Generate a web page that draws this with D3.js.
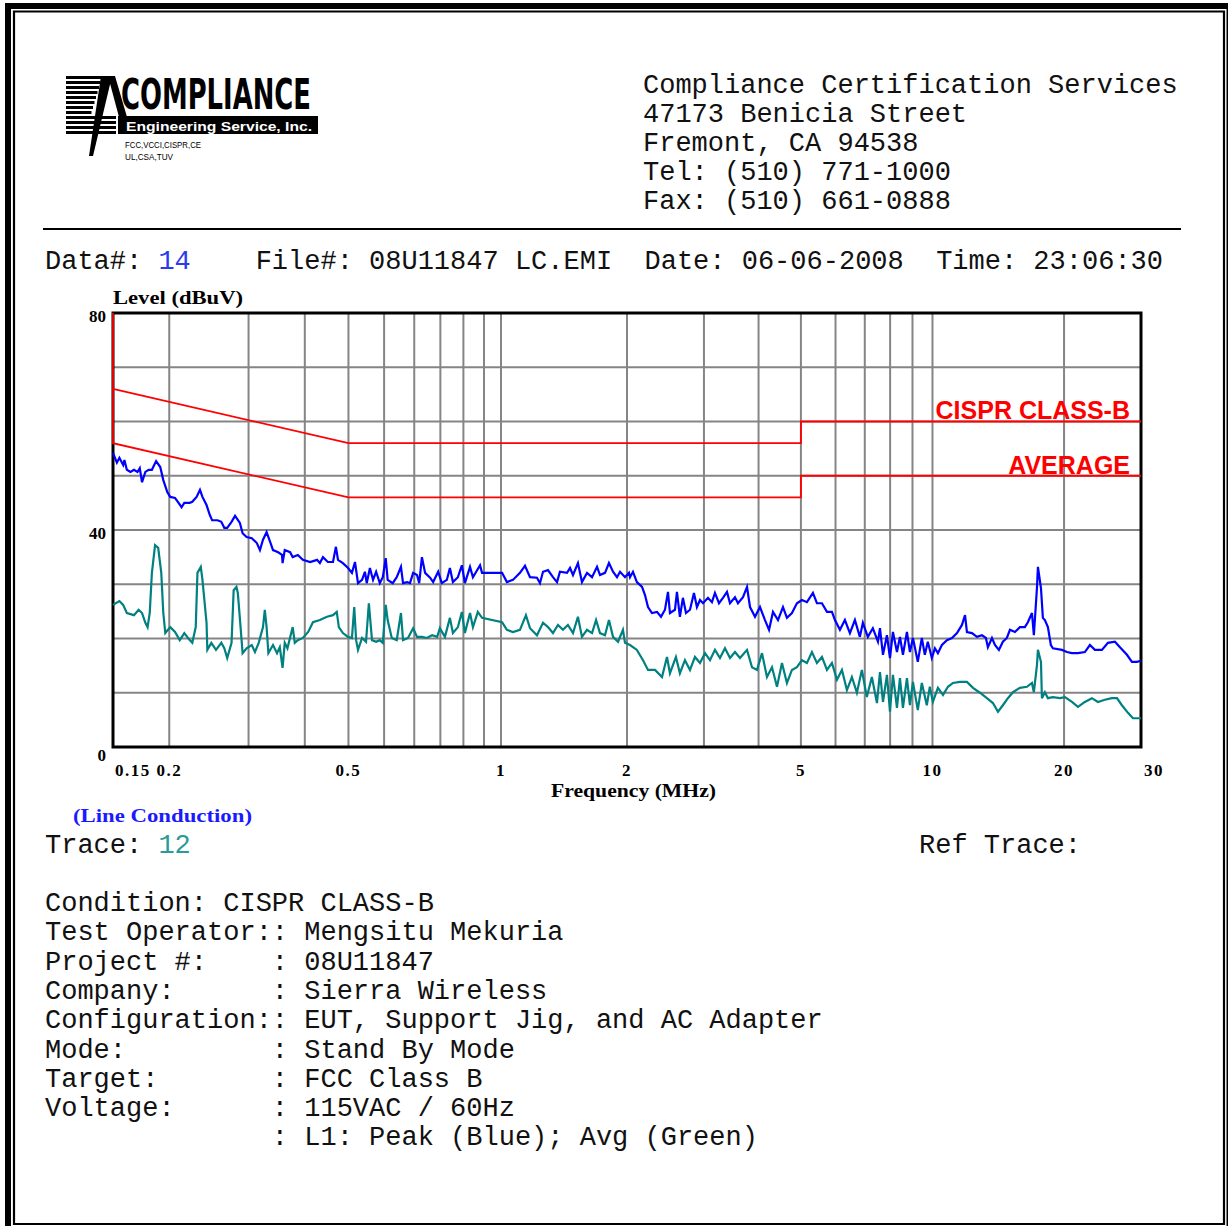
<!DOCTYPE html>
<html lang="en">
<head>
  <meta charset="UTF-8">
  <title>Line Conduction - CISPR Class B</title>
  <script src="https://d3js.org/d3.v7.min.js"></script>
  <style>
    body { margin: 0; background: #fff; }
    svg text { white-space: pre; }
  </style>
</head>
<body>

<div id="page"></div>

<script>
// ---- report text ----
const headerLines = [
  "Compliance Certification Services",
  "47173 Benicia Street",
  "Fremont, CA 94538",
  "Tel: (510) 771-1000",
  "Fax: (510) 661-0888"
];
const dataNumber = "14";
const dataRest = "    File#: 08U11847 LC.EMI  Date: 06-06-2008  Time: 23:06:30";
const traceNumber = "12";
const conditionLines = [
  "Condition: CISPR CLASS-B",
  "Test Operator:: Mengsitu Mekuria",
  "Project #:    : 08U11847",
  "Company:      : Sierra Wireless",
  "Configuration:: EUT, Support Jig, and AC Adapter",
  "Mode:         : Stand By Mode",
  "Target:       : FCC Class B",
  "Voltage:      : 115VAC / 60Hz",
  "              : L1: Peak (Blue); Avg (Green)"
];

// ---- axes ----
const gridLow = [0.2, 0.3, 0.4, 0.5, 0.6, 0.7, 0.8, 0.9, 1];
const gridHigh = [1, 2, 3, 4, 5, 6, 7, 8, 9, 10, 20];
const xTickLabels = [0.15, 0.2, 0.5, 1, 2, 5, 10, 20, 30];
const yGrid = [10, 20, 30, 40, 50, 60, 70];
const yTickLabels = [80, 40, 0];

// ---- limit lines (MHz, dBuV) ----
const qpLimit = [[0.15, 66], [0.5, 56], [5, 56], [5, 60], [30, 60]];
const avgLimit = [[0.15, 80], [0.15, 56], [0.5, 46], [5, 46], [5, 50], [30, 50]];

// ---- measured traces (MHz, dBuV) ----
const peakTrace = [
  [0.150,54.2],[0.153,52.4],[0.155,53.3],[0.158,52.0],[0.159,52.9],[0.161,51.1],[0.164,50.7],[0.167,51.1],
  [0.170,50.7],[0.172,51.4],[0.174,48.8],[0.177,50.7],[0.180,51.1],[0.183,51.1],[0.187,52.7],[0.191,51.6],
  [0.194,49.2],[0.198,47.0],[0.201,46.1],[0.206,45.9],[0.209,45.2],[0.213,44.2],[0.216,45.0],[0.222,45.0],
  [0.225,45.2],[0.230,46.1],[0.234,47.4],[0.237,46.1],[0.242,44.6],[0.246,42.8],[0.249,41.8],[0.256,41.8],
  [0.261,41.5],[0.265,40.4],[0.269,40.4],[0.275,41.5],[0.280,42.6],[0.287,41.3],[0.291,39.4],[0.297,38.7],
  [0.305,38.5],[0.313,37.6],[0.318,36.3],[0.323,38.2],[0.329,39.6],[0.335,37.8],[0.340,36.3],[0.349,35.9],
  [0.356,35.4],[0.357,33.9],[0.361,36.3],[0.371,35.9],[0.376,35.0],[0.386,35.4],[0.396,34.5],[0.411,34.1],
  [0.426,34.5],[0.432,33.9],[0.439,35.0],[0.450,34.1],[0.462,34.1],[0.469,36.9],[0.474,34.5],[0.486,33.9],
  [0.499,33.0],[0.509,32.1],[0.517,34.1],[0.525,30.2],[0.536,30.8],[0.544,32.3],[0.549,30.2],[0.558,33.0],
  [0.567,30.8],[0.576,32.3],[0.587,30.2],[0.596,31.3],[0.605,34.8],[0.611,30.8],[0.627,30.2],[0.640,31.3],
  [0.654,33.2],[0.661,30.2],[0.675,30.4],[0.685,30.2],[0.696,32.1],[0.710,31.7],[0.718,30.2],[0.728,35.0],
  [0.740,32.1],[0.759,31.2],[0.771,30.4],[0.791,32.3],[0.806,30.2],[0.827,30.8],[0.840,33.0],[0.853,30.4],
  [0.875,31.3],[0.893,33.5],[0.907,30.2],[0.931,33.2],[0.945,31.3],[0.980,33.5],[0.990,32.1],
  [1.006,32.1],[1.033,30.4],[1.068,30.8],[1.110,32.1],[1.141,33.4],[1.173,31.3],[1.219,31.2],[1.239,30.2],
  [1.260,32.3],[1.295,32.6],[1.331,31.3],[1.361,30.4],[1.383,32.3],[1.438,32.1],[1.462,33.0],[1.486,31.7],
  [1.527,33.9],[1.561,30.4],[1.605,32.1],[1.650,31.3],[1.696,33.2],[1.724,31.7],[1.772,32.1],[1.811,33.9],
  [1.852,32.3],[1.893,31.3],[1.925,32.3],[1.978,31.3],[2.021,32.1],[2.032,31.3],[2.064,32.3],[2.107,30.4],
  [2.165,29.5],[2.199,28.0],[2.234,25.8],[2.281,24.7],[2.343,24.9],[2.392,24.0],[2.443,25.3],[2.482,28.6],
  [2.508,24.7],[2.575,25.3],[2.602,28.6],[2.643,24.0],[2.685,27.5],[2.729,24.7],[2.787,25.3],[2.846,28.4],
  [2.891,25.8],[2.938,27.1],[2.985,26.5],[3.064,27.5],[3.129,26.7],[3.179,28.4],[3.247,26.5],[3.316,27.5],
  [3.387,28.6],[3.441,26.5],[3.533,27.6],[3.589,26.5],[3.685,27.6],[3.764,29.5],[3.824,25.8],[3.926,24.0],
  [4.030,25.8],[4.138,23.4],[4.227,21.6],[4.316,24.9],[4.431,23.4],[4.549,25.8],[4.645,23.8],[4.769,24.7],
  [4.896,26.5],[5.027,27.1],[5.161,26.7],[5.327,28.4],[5.440,26.5],[5.586,26.5],[5.735,24.9],[5.888,24.9],
  [5.982,23.4],[6.141,21.6],[6.304,23.4],[6.473,21.0],[6.645,23.4],[6.821,20.3],[6.930,22.9],[7.114,20.3],
  [7.304,21.9],[7.503,19.4],[7.583,21.9],[7.704,17.0],[7.867,20.6],[7.993,16.4],[8.120,21.2],[8.293,17.5],
  [8.425,20.3],[8.559,17.0],[8.741,21.2],[8.880,17.5],[9.021,20.1],[9.256,15.7],[9.454,20.1],[9.605,17.0],
  [9.757,19.4],[9.966,16.4],[10.13,18.2],[10.29,17.3],[10.51,18.8],[10.79,19.7],[11.08,20.1],[11.38,21.0],
  [11.68,22.5],[11.87,24.3],[11.99,21.2],[12.31,21.0],[12.64,20.3],[12.98,20.6],[13.25,20.1],[13.39,18.4],
  [13.68,20.1],[13.90,18.8],[14.19,17.9],[14.49,19.4],[14.80,20.1],[15.04,21.6],[15.44,21.2],[15.85,22.1],
  [16.27,22.1],[16.53,23.0],[16.89,24.7],[17.06,20.6],[17.34,29.3],[17.43,33.2],[17.71,29.3],[17.89,23.8],
  [18.08,23.4],[18.37,22.1],[18.66,18.8],[18.86,18.2],[19.78,17.9],[20.31,17.5],[20.85,17.3],[21.52,17.3],
  [22.32,17.5],[22.92,18.8],[23.53,17.9],[24.42,17.9],[25.20,19.2],[26.15,19.4],[26.85,18.4],[27.86,17.0],
  [28.60,15.7],[29.37,15.7],[30.0,15.9]
];

const avgTrace = [
  [0.150,26.2],[0.155,26.9],[0.158,26.2],[0.161,24.7],[0.167,24.3],[0.171,25.3],[0.174,24.7],[0.177,22.9],
  [0.179,22.1],[0.181,24.7],[0.183,32.1],[0.186,37.2],[0.189,36.7],[0.192,32.1],[0.194,24.7],[0.196,21.0],
  [0.201,22.1],[0.206,21.2],[0.211,19.7],[0.216,21.0],[0.222,19.7],[0.225,19.2],[0.229,22.1],[0.231,32.1],
  [0.235,33.2],[0.237,30.8],[0.242,22.9],[0.243,17.9],[0.248,19.2],[0.254,17.9],[0.261,19.2],[0.265,18.2],
  [0.269,16.4],[0.275,19.2],[0.278,28.9],[0.282,29.5],[0.284,28.4],[0.288,22.1],[0.291,17.3],[0.297,18.2],
  [0.305,18.8],[0.310,17.5],[0.316,19.2],[0.323,22.1],[0.326,25.3],[0.329,22.1],[0.332,17.3],[0.340,18.8],
  [0.347,17.3],[0.352,18.4],[0.357,14.6],[0.361,19.2],[0.366,18.2],[0.376,22.1],[0.380,19.2],[0.386,19.7],
  [0.396,20.1],[0.407,21.2],[0.417,23.0],[0.432,23.4],[0.448,24.0],[0.462,24.3],[0.471,24.9],[0.476,22.1],
  [0.486,21.0],[0.499,20.3],[0.509,20.1],[0.515,25.8],[0.520,19.7],[0.525,17.9],[0.536,20.1],[0.547,19.4],
  [0.555,26.5],[0.564,19.7],[0.576,19.4],[0.587,19.7],[0.596,19.2],[0.605,26.2],[0.611,23.4],[0.624,20.1],
  [0.640,19.7],[0.654,24.7],[0.661,19.7],[0.678,20.1],[0.696,21.9],[0.710,20.3],[0.728,20.3],[0.747,20.1],
  [0.767,20.6],[0.787,20.3],[0.798,21.9],[0.819,20.3],[0.840,23.8],[0.853,21.0],[0.875,22.1],[0.893,24.9],
  [0.907,21.0],[0.931,24.7],[0.945,22.1],[0.969,24.9],[0.990,23.8],
  [1.006,23.0],[1.033,21.6],[1.068,21.2],[1.110,21.6],[1.147,24.3],[1.173,21.9],[1.219,20.6],[1.260,22.9],
  [1.295,22.1],[1.331,21.0],[1.368,22.5],[1.406,21.6],[1.445,22.5],[1.486,21.0],[1.527,24.0],[1.561,20.3],
  [1.605,21.6],[1.650,21.0],[1.687,23.4],[1.724,21.0],[1.772,20.6],[1.811,23.4],[1.852,20.3],[1.904,19.4],
  [1.956,21.6],[1.978,19.2],[2.032,18.8],[2.107,17.9],[2.176,16.0],[2.234,14.2],[2.318,14.2],[2.405,12.9],
  [2.469,16.6],[2.508,13.6],[2.588,16.6],[2.643,13.6],[2.714,16.0],[2.787,14.2],[2.861,16.6],[2.938,15.5],
  [3.016,17.3],[3.097,16.0],[3.179,17.9],[3.264,16.4],[3.351,18.2],[3.441,16.4],[3.533,17.5],[3.627,16.4],
  [3.764,17.9],[3.864,14.7],[3.967,14.2],[4.073,17.3],[4.181,12.9],[4.293,14.7],[4.408,11.1],[4.525,15.5],
  [4.645,11.8],[4.769,14.2],[4.896,14.7],[5.027,16.0],[5.161,15.5],[5.299,17.5],[5.440,15.5],[5.586,16.6],
  [5.735,14.2],[5.888,15.5],[6.045,12.4],[6.206,14.2],[6.371,10.5],[6.541,12.9],[6.715,10.0],[6.893,14.2],
  [7.077,9.2],[7.266,12.9],[7.464,8.1],[7.583,13.8],[7.704,8.3],[7.867,13.3],[7.993,6.5],[8.120,13.3],
  [8.293,7.2],[8.425,12.7],[8.559,7.2],[8.741,12.7],[8.880,7.7],[9.021,12.0],[9.256,6.8],[9.454,11.8],
  [9.706,7.7],[9.861,11.1],[10.02,8.3],[10.29,10.9],[10.57,9.6],[10.85,11.1],[11.14,11.8],[11.56,12.0],
  [11.99,12.0],[12.38,10.9],[12.84,10.0],[13.32,9.0],[13.75,8.1],[14.12,6.5],[14.49,7.7],[14.88,9.0],
  [15.28,10.1],[15.85,10.9],[16.45,11.1],[16.89,11.8],[17.06,10.1],[17.34,15.1],[17.43,17.9],[17.71,15.7],
  [17.80,9.0],[18.08,10.1],[18.37,9.0],[18.86,9.2],[19.57,9.0],[20.10,9.2],[20.85,8.3],[21.52,7.4],
  [22.32,8.3],[23.16,9.0],[23.91,8.3],[24.80,8.7],[25.73,9.0],[26.43,9.0],[27.13,7.7],[28.01,6.3],
  [28.76,5.3],[30.0,5.3]
];

// ---- page ----
const W = 1228, H = 1226;
const mono = "'Liberation Mono', 'DejaVu Sans Mono', monospace";
const serif = "'Liberation Serif', 'DejaVu Serif', serif";

const svg = d3.select("#page").append("svg")
  .attr("width", W)
  .attr("height", H)
  .style("display", "block");

svg.append("rect").attr("width", W).attr("height", H).attr("fill", "#fff");

// double page border
svg.append("rect").attr("x", 5).attr("y", 3).attr("width", 6).attr("height", H).attr("fill", "#000");
svg.append("rect").attr("x", 5).attr("y", 3).attr("width", W).attr("height", 6).attr("fill", "#000");
svg.append("rect").attr("x", 1226.5).attr("y", 3).attr("width", 1.5).attr("height", H).attr("fill", "#000");
svg.append("path")
  .attr("d", "M14,1224 L14,11.5 L1224,11.5 L1224,1224 Z")
  .attr("fill", "none")
  .attr("stroke", "#000")
  .attr("stroke-width", 2.2);

// ---- logo ----
const logo = svg.append("g");
for (let i = 0; i < 12; i++) {
  logo.append("rect")
    .attr("x", 66).attr("y", 76 + i * 5)
    .attr("width", i < 8 ? 36 - i * 1.5 : 50)
    .attr("height", 3)
    .attr("fill", "#000");
}
logo.append("polygon").attr("points", "101,76 112,76 93,156 89,156").attr("fill", "#000");
logo.append("polygon").attr("points", "108,76 115,76 127,117 119,117").attr("fill", "#000");
logo.append("rect").attr("x", 118).attr("y", 116).attr("width", 200).attr("height", 18).attr("fill", "#000");
logo.append("text")
  .attr("x", 121).attr("y", 109)
  .attr("font-family", "'DejaVu Sans Condensed', 'DejaVu Sans', sans-serif")
  .attr("font-weight", 900)
  .attr("font-size", 43)
  .attr("textLength", 190)
  .attr("lengthAdjust", "spacingAndGlyphs")
  .text("COMPLIANCE");
logo.append("text")
  .attr("x", 126).attr("y", 131)
  .attr("fill", "#fff")
  .attr("font-family", "'Liberation Sans', Arial, sans-serif")
  .attr("font-weight", "bold")
  .attr("font-size", 12)
  .attr("textLength", 186)
  .attr("lengthAdjust", "spacingAndGlyphs")
  .text("Engineering Service, Inc.");
logo.append("text")
  .attr("x", 125).attr("y", 148)
  .attr("font-family", "'Liberation Sans', Arial, sans-serif")
  .attr("font-size", 9)
  .attr("textLength", 76)
  .attr("lengthAdjust", "spacingAndGlyphs")
  .text("FCC,VCCI,CISPR,CE");
logo.append("text")
  .attr("x", 125).attr("y", 160)
  .attr("font-family", "'Liberation Sans', Arial, sans-serif")
  .attr("font-size", 9)
  .attr("textLength", 48)
  .attr("lengthAdjust", "spacingAndGlyphs")
  .text("UL,CSA,TUV");

// ---- header text ----
const monoText = (x, y) => svg.append("text")
  .attr("x", x).attr("y", y)
  .attr("xml:space", "preserve")
  .attr("font-family", mono)
  .attr("font-size", 27)
  .attr("fill", "#111");

svg.selectAll("text.header")
  .data(headerLines)
  .join("text")
  .attr("class", "header")
  .attr("x", 643)
  .attr("y", (d, i) => 93 + i * 29)
  .attr("font-family", mono)
  .attr("font-size", 27)
  .attr("fill", "#111")
  .text(d => d);

svg.append("line")
  .attr("x1", 43).attr("x2", 1181)
  .attr("y1", 229).attr("y2", 229)
  .attr("stroke", "#000").attr("stroke-width", 2);

const dataText = monoText(45, 269);
dataText.append("tspan").text("Data#: ");
dataText.append("tspan").attr("fill", "#2b3cf0").text(dataNumber);
dataText.append("tspan").text(dataRest);

// ---- chart ----
const plot = { left: 113, right: 1141, top: 313, bottom: 747 };

// the frequency axis is drawn in two log segments (0.15-1 MHz and 1-30 MHz)
const xLo = d3.scaleLog().domain([0.15, 1]).range([plot.left, 484]);
const xHi = d3.scaleLog().domain([1, 2, 30]).range([501, 627, plot.right]);
const x = f => (f < 1 ? xLo(f) : xHi(f));
const y = d3.scaleLinear().domain([0, 80]).range([plot.bottom, plot.top]);

const grid = svg.append("g")
  .attr("stroke", "#858585")
  .attr("stroke-width", 2);

grid.selectAll("line.lo")
  .data(gridLow)
  .join("line")
  .attr("class", "lo")
  .attr("x1", d => xLo(d)).attr("x2", d => xLo(d))
  .attr("y1", plot.top).attr("y2", plot.bottom);

grid.selectAll("line.hi")
  .data(gridHigh)
  .join("line")
  .attr("class", "hi")
  .attr("x1", d => xHi(d)).attr("x2", d => xHi(d))
  .attr("y1", plot.top).attr("y2", plot.bottom);

grid.selectAll("line.h")
  .data(yGrid)
  .join("line")
  .attr("class", "h")
  .attr("x1", plot.left).attr("x2", plot.right)
  .attr("y1", d => y(d)).attr("y2", d => y(d));

// plot frame
svg.append("rect")
  .attr("x", plot.left).attr("y", plot.top)
  .attr("width", plot.right - plot.left)
  .attr("height", plot.bottom - plot.top)
  .attr("fill", "none")
  .attr("stroke", "#000")
  .attr("stroke-width", 3);

const line = d3.line()
  .x(d => x(d[0]))
  .y(d => y(d[1]));

// limits
svg.append("path").datum(qpLimit)
  .attr("d", line)
  .attr("fill", "none")
  .attr("stroke", "#ff0000")
  .attr("stroke-width", 1.8);

svg.append("path").datum(avgLimit)
  .attr("d", line)
  .attr("fill", "none")
  .attr("stroke", "#ff0000")
  .attr("stroke-width", 1.8);

// traces
svg.append("path").datum(avgTrace)
  .attr("d", line)
  .attr("fill", "none")
  .attr("stroke", "#008080")
  .attr("stroke-width", 2.2)
  .attr("stroke-linejoin", "miter");

svg.append("path").datum(peakTrace)
  .attr("d", line)
  .attr("fill", "none")
  .attr("stroke", "#0000ff")
  .attr("stroke-width", 2.2)
  .attr("stroke-linejoin", "miter");

// limit labels
svg.append("text")
  .attr("x", 1130).attr("y", 419)
  .attr("text-anchor", "end")
  .attr("font-family", "'Liberation Sans', Arial, sans-serif")
  .attr("font-weight", "bold")
  .attr("font-size", 25)
  .attr("fill", "#ff0000")
  .text("CISPR CLASS-B");

svg.append("text")
  .attr("x", 1130).attr("y", 474)
  .attr("text-anchor", "end")
  .attr("font-family", "'Liberation Sans', Arial, sans-serif")
  .attr("font-weight", "bold")
  .attr("font-size", 25)
  .attr("fill", "#ff0000")
  .text("AVERAGE");

// tick labels
svg.selectAll("text.xtick")
  .data(xTickLabels)
  .join("text")
  .attr("class", "xtick")
  .attr("x", (d, i) => i === 0 ? x(d) + 2 : (i === xTickLabels.length - 1 ? x(d) + 3 : x(d)))
  .attr("y", 776)
  .attr("text-anchor", (d, i) => (i === 0 || i === xTickLabels.length - 1) ? "start" : "middle")
  .attr("font-family", serif)
  .attr("font-weight", "bold")
  .attr("font-size", 17)
  .attr("letter-spacing", 1.5)
  .text(d => String(d));

svg.selectAll("text.ytick")
  .data(yTickLabels)
  .join("text")
  .attr("class", "ytick")
  .attr("x", 106)
  .attr("y", d => y(d) + (d === 0 ? 14 : 9))
  .attr("text-anchor", "end")
  .attr("font-family", serif)
  .attr("font-weight", "bold")
  .attr("font-size", 17)
  .text(d => String(d));

// axis titles
svg.append("text")
  .attr("x", 113).attr("y", 304)
  .attr("font-family", serif)
  .attr("font-weight", "bold")
  .attr("font-size", 18)
  .attr("textLength", 130)
  .attr("lengthAdjust", "spacingAndGlyphs")
  .text("Level (dBuV)");

svg.append("text")
  .attr("x", 551).attr("y", 797)
  .attr("font-family", serif)
  .attr("font-weight", "bold")
  .attr("font-size", 18)
  .attr("textLength", 165)
  .attr("lengthAdjust", "spacingAndGlyphs")
  .text("Frequency (MHz)");

svg.append("text")
  .attr("x", 73).attr("y", 822)
  .attr("font-family", serif)
  .attr("font-weight", "bold")
  .attr("font-size", 18)
  .attr("fill", "#1a1aff")
  .attr("textLength", 179)
  .attr("lengthAdjust", "spacingAndGlyphs")
  .text("(Line Conduction)");

// ---- footer text ----
const traceText = monoText(45, 853);
traceText.append("tspan").text("Trace: ");
traceText.append("tspan").attr("fill", "#2a9a9a").text(traceNumber);

monoText(919, 853).text("Ref Trace:");

svg.selectAll("text.cond")
  .data(conditionLines)
  .join("text")
  .attr("class", "cond")
  .attr("xml:space", "preserve")
  .attr("x", 45)
  .attr("y", (d, i) => 911 + i * 29.3)
  .attr("font-family", mono)
  .attr("font-size", 27)
  .attr("fill", "#111")
  .text(d => d);
</script>

</body>
</html>
